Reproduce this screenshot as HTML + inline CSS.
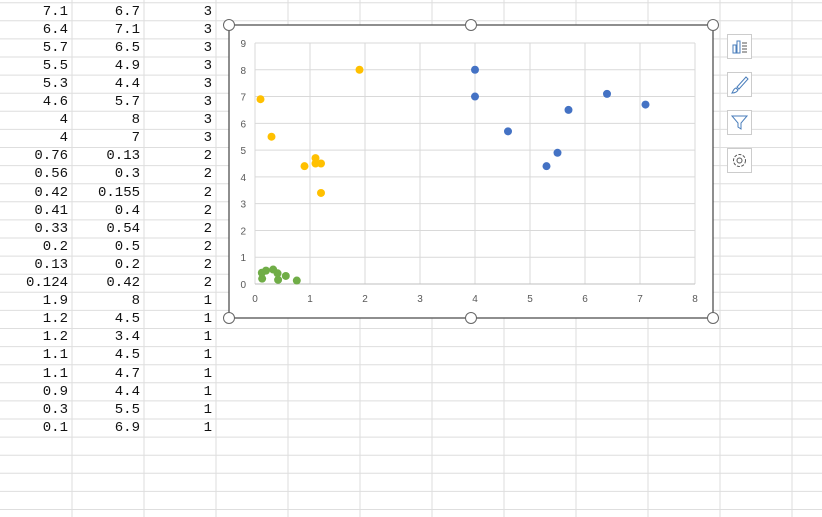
<!DOCTYPE html>
<html><head><meta charset="utf-8"><style>
body{margin:0;width:822px;height:517px;overflow:hidden;background:#fff;font-family:"Liberation Mono","Noto Sans CJK SC",monospace;}
#grid{position:absolute;left:0;top:0;width:822px;height:517px}
.cell{position:absolute;font-size:14px;text-align:right;width:66px;color:#111}
#chart{position:absolute;left:0;top:0}
.btn{position:absolute;left:727px;width:25px;height:25px;border:1px solid #ccc;background:#fff;box-sizing:border-box}
</style></head><body>
<svg id="grid"></svg>
<div id="cells"></div>
<svg id="chart" width="822" height="517"></svg>
<div class="btn" style="top:34px"><svg width="23" height="23"><rect x="5" y="10" width="3" height="8" fill="none" stroke="#4a7ebb"/><rect x="9" y="6" width="3" height="12" fill="none" stroke="#4a7ebb"/><path d="M14 8h5M14 11h5M14 14h5M14 17h5" stroke="#555"/></svg></div>
<div class="btn" style="top:72px"><svg width="23" height="23"><path d="M18 4L9 14l2 2 9-10z" fill="none" stroke="#4a7ebb"/><path d="M8 15c-3 1-3 4-4 5 3 0 5-1 6-3z" fill="none" stroke="#4a7ebb"/></svg></div>
<div class="btn" style="top:110px"><svg width="23" height="23"><path d="M4 5h15l-6 7v6l-3 -2v-4z" fill="none" stroke="#4a7ebb"/></svg></div>
<div class="btn" style="top:148px"><svg width="23" height="23"><circle cx="11.5" cy="11.5" r="6" fill="none" stroke="#555" stroke-dasharray="3 1.5"/><circle cx="11.5" cy="11.5" r="2.5" fill="none" stroke="#555"/></svg></div>
<script>
const xs3=[7.1,6.4,5.7,5.5,5.3,4.6,4,4];
const ys3=[6.7,7.1,6.5,4.9,4.4,5.7,8,7];
const xs2=[0.76,0.56,0.42,0.41,0.33,0.2,0.13,0.124];
const ys2=[0.13,0.3,0.155,0.4,0.54,0.5,0.2,0.42];
const xs1=[1.9,1.2,1.2,1.1,1.1,0.9,0.3,0.1];
const ys1=[8,4.5,3.4,4.5,4.7,4.4,5.5,6.9];
const xTicks=[0,1,2,3,4,5,6,7,8];
const yTicks=[0,1,2,3,4,5,6,7,8,9];
const NS="http://www.w3.org/2000/svg";
function mk(p,t,a){const e=document.createElementNS(NS,t);for(const k in a)e.setAttribute(k,a[k]);p.appendChild(e);return e;}
const g=document.getElementById('grid');
for(let y=2.7;y<517;y+=18.1){const l=mk(g,'line',{x1:0,x2:822,y1:y,y2:y,stroke:'#dedede'});

}
for(let x=72;x<822;x+=72){const l=mk(g,'line',{x1:x,x2:x,y1:0,y2:517,stroke:'#dedede'});

}
const cells=document.getElementById('cells');
const rows=[];
xs3.forEach((v,i)=>rows.push([v,ys3[i],3]));
xs2.forEach((v,i)=>rows.push([v,ys2[i],2]));
xs1.forEach((v,i)=>rows.push([v,ys1[i],1]));
rows.forEach((r,i)=>{r.forEach((v,j)=>{const d=document.createElement('div');d.className='cell';


d.style.left=(j*72+2)+'px';d.style.top=(3.5+i*18.1)+'px';d.textContent=String(v);cells.appendChild(d);});});
const c=document.getElementById('chart');
const fr=mk(c,'rect',{x:229,y:25,width:484,height:293,fill:'#fff',stroke:'#444','stroke-width':1.2});


const X0=255,XS=55,Y0=284,YS=26.78;
const sx=v=>X0+v*XS, sy=v=>Y0-v*YS;
yTicks.forEach(t=>{mk(c,'line',{x1:sx(0),x2:sx(8),y1:sy(t),y2:sy(t),stroke:'#d9d9d9'});
const tx=mk(c,'text',{x:246,y:sy(t)+4,'font-size':10,'text-anchor':'end',fill:'#595959','font-family':'Liberation Sans, sans-serif'});tx.textContent=t;

});
xTicks.forEach(t=>{mk(c,'line',{x1:sx(t),x2:sx(t),y1:sy(0),y2:sy(9),stroke:'#d9d9d9'});
const tx=mk(c,'text',{x:sx(t),y:302,'font-size':10,'text-anchor':'middle',fill:'#595959','font-family':'Liberation Sans, sans-serif'});tx.textContent=t;

});
mk(c,'line',{x1:sx(0),x2:sx(8),y1:sy(0),y2:sy(0),stroke:'#bfbfbf'});
function series(xs,ys,col,name){xs.forEach((x,i)=>{const p=mk(c,'circle',{cx:sx(x),cy:sy(ys[i]),r:4,fill:col});

});}
series(xs3,ys3,'#4472c4','point-group-3');
series(xs2,ys2,'#70ad47','point-group-2');
series(xs1,ys1,'#ffc000','point-group-1');
[[229,25],[471,25],[713,25],[229,318],[471,318],[713,318]].forEach(h=>{const e=mk(c,'circle',{cx:h[0],cy:h[1],r:5.5,fill:'#fff',stroke:'#666'});

});
</script>
</body></html>
